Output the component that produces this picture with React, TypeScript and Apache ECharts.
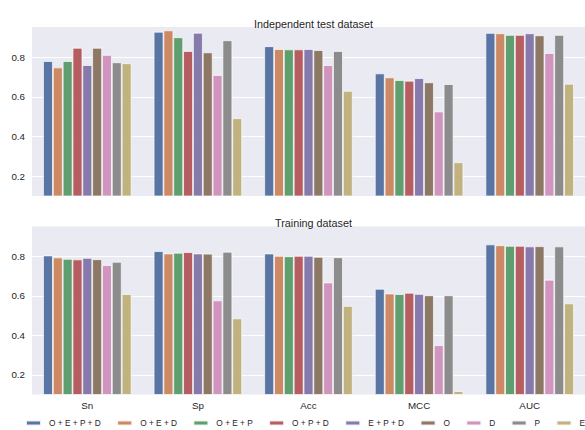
import React, { useEffect, useRef } from "react";
import * as echarts from "echarts";

const categories = ["Sn", "Sp", "Acc", "MCC", "AUC"];
const featureSets = ["O + E + P + D", "O + E + D", "O + E + P", "O + P + D", "E + P + D", "O", "D", "P", "E"];
const colors = ["#5975a4", "#cc8963", "#5f9e6e", "#b55d60", "#857aab", "#8d7866", "#d095bf", "#8c8c8c", "#c1b37f"];
const yTicks = [0.2, 0.4, 0.6, 0.8];
const titles = ["Independent test dataset", "Training dataset"];

// Independent test dataset (order: Sn, Sp, Acc, MCC, AUC)
const testOEPD = [0.780, 0.928, 0.855, 0.718, 0.922];
const testOED = [0.748, 0.935, 0.841, 0.698, 0.920];
const testOEP = [0.780, 0.900, 0.839, 0.684, 0.912];
const testOPD = [0.847, 0.831, 0.839, 0.681, 0.912];
const testEPD = [0.760, 0.923, 0.841, 0.694, 0.920];
const testO = [0.847, 0.824, 0.836, 0.673, 0.910];
const testD = [0.811, 0.710, 0.760, 0.526, 0.821];
const testP = [0.774, 0.885, 0.831, 0.664, 0.912];
const testE = [0.769, 0.492, 0.630, 0.270, 0.666];

// Training dataset
const trainOEPD = [0.805, 0.827, 0.815, 0.636, 0.861];
const trainOED = [0.795, 0.815, 0.803, 0.612, 0.857];
const trainOEP = [0.788, 0.819, 0.801, 0.609, 0.854];
const trainOPD = [0.785, 0.822, 0.803, 0.616, 0.854];
const trainEPD = [0.793, 0.815, 0.803, 0.610, 0.851];
const trainO = [0.786, 0.814, 0.798, 0.603, 0.852];
const trainD = [0.756, 0.577, 0.668, 0.350, 0.682];
const trainP = [0.773, 0.824, 0.796, 0.603, 0.851];
const trainE = [0.609, 0.486, 0.549, 0.117, 0.562];

const testValues = [testOEPD, testOED, testOEP, testOPD, testEPD, testO, testD, testP, testE];
const trainValues = [trainOEPD, trainOED, trainOEP, trainOPD, trainEPD, trainO, trainD, trainP, trainE];

const FONT = "Liberation Sans, Arial, sans-serif";
const TEXT = "#262626";

export default function App() {
  const ref = useRef<HTMLDivElement>(null);
  useEffect(() => {
    document.body.style.margin = "0";
    const chart = echarts.init(ref.current!, null, { renderer: "svg" });
    const yAxisCommon = () => ({
      type: "value",
      min: 0.1,
      max: 0.952,
      axisLine: { show: false },
      axisTick: { show: false, customValues: yTicks },
      axisLabel: {
        customValues: yTicks,
        margin: 7,
        fontSize: 9.8,
        color: TEXT,
        fontFamily: FONT,
        formatter: (v: number) => v.toFixed(1),
      },
      splitLine: { show: true, lineStyle: { color: "#ffffff", width: 1 } },
    });
    const xAxisCommon = (showLabels: boolean) => ({
      type: "category",
      data: categories,
      axisLine: { show: false },
      axisTick: { show: false },
      axisLabel: { show: showLabels, margin: 6, fontSize: 9.8, color: TEXT, fontFamily: FONT },
      splitLine: { show: false },
    });
    const mkSeries = (vals: number[][], idx: number) =>
      vals.map((arr, i) => ({
        name: featureSets[i],
        type: "bar",
        xAxisIndex: idx,
        yAxisIndex: idx,
        data: arr,
        barGap: "0%",
        barCategoryGap: "20%",
        itemStyle: { color: colors[i], borderColor: "rgba(255,255,255,0.85)", borderWidth: 0.8 },
      }));
    chart.setOption({
      animation: false,
      color: colors,
      title: [
        { text: titles[0], left: 308.5, top: 13, textAlign: "center", textStyle: { fontSize: 10.8, fontWeight: "normal", color: TEXT, fontFamily: FONT } },
        { text: titles[1], left: 308.5, top: 212, textAlign: "center", textStyle: { fontSize: 10.8, fontWeight: "normal", color: TEXT, fontFamily: FONT } },
      ],
      legend: {
        data: featureSets,
        left: 25,
        top: 419,
        width: 900,
        padding: 0,
        itemWidth: 15,
        itemHeight: 5,
        itemGap: 15.3,
        icon: "rect",
        textStyle: { fontSize: 8.3, color: TEXT, fontFamily: FONT, padding: [0, 0, 0, 3] },
      },
      grid: [
        { left: 32, top: 27, width: 553, height: 169, show: true, backgroundColor: "#EAEAF2", borderWidth: 0 },
        { left: 32, top: 226.5, width: 553, height: 168, show: true, backgroundColor: "#EAEAF2", borderWidth: 0 },
      ],
      xAxis: [{ ...xAxisCommon(false), gridIndex: 0 }, { ...xAxisCommon(true), gridIndex: 1 }],
      yAxis: [{ ...yAxisCommon(), gridIndex: 0 }, { ...yAxisCommon(), gridIndex: 1 }],
      series: [...mkSeries(testValues, 0), ...mkSeries(trainValues, 1)],
    });
    return () => chart.dispose();
  }, []);
  return <div ref={ref} style={{ width: 585, height: 430 }} />;
}
